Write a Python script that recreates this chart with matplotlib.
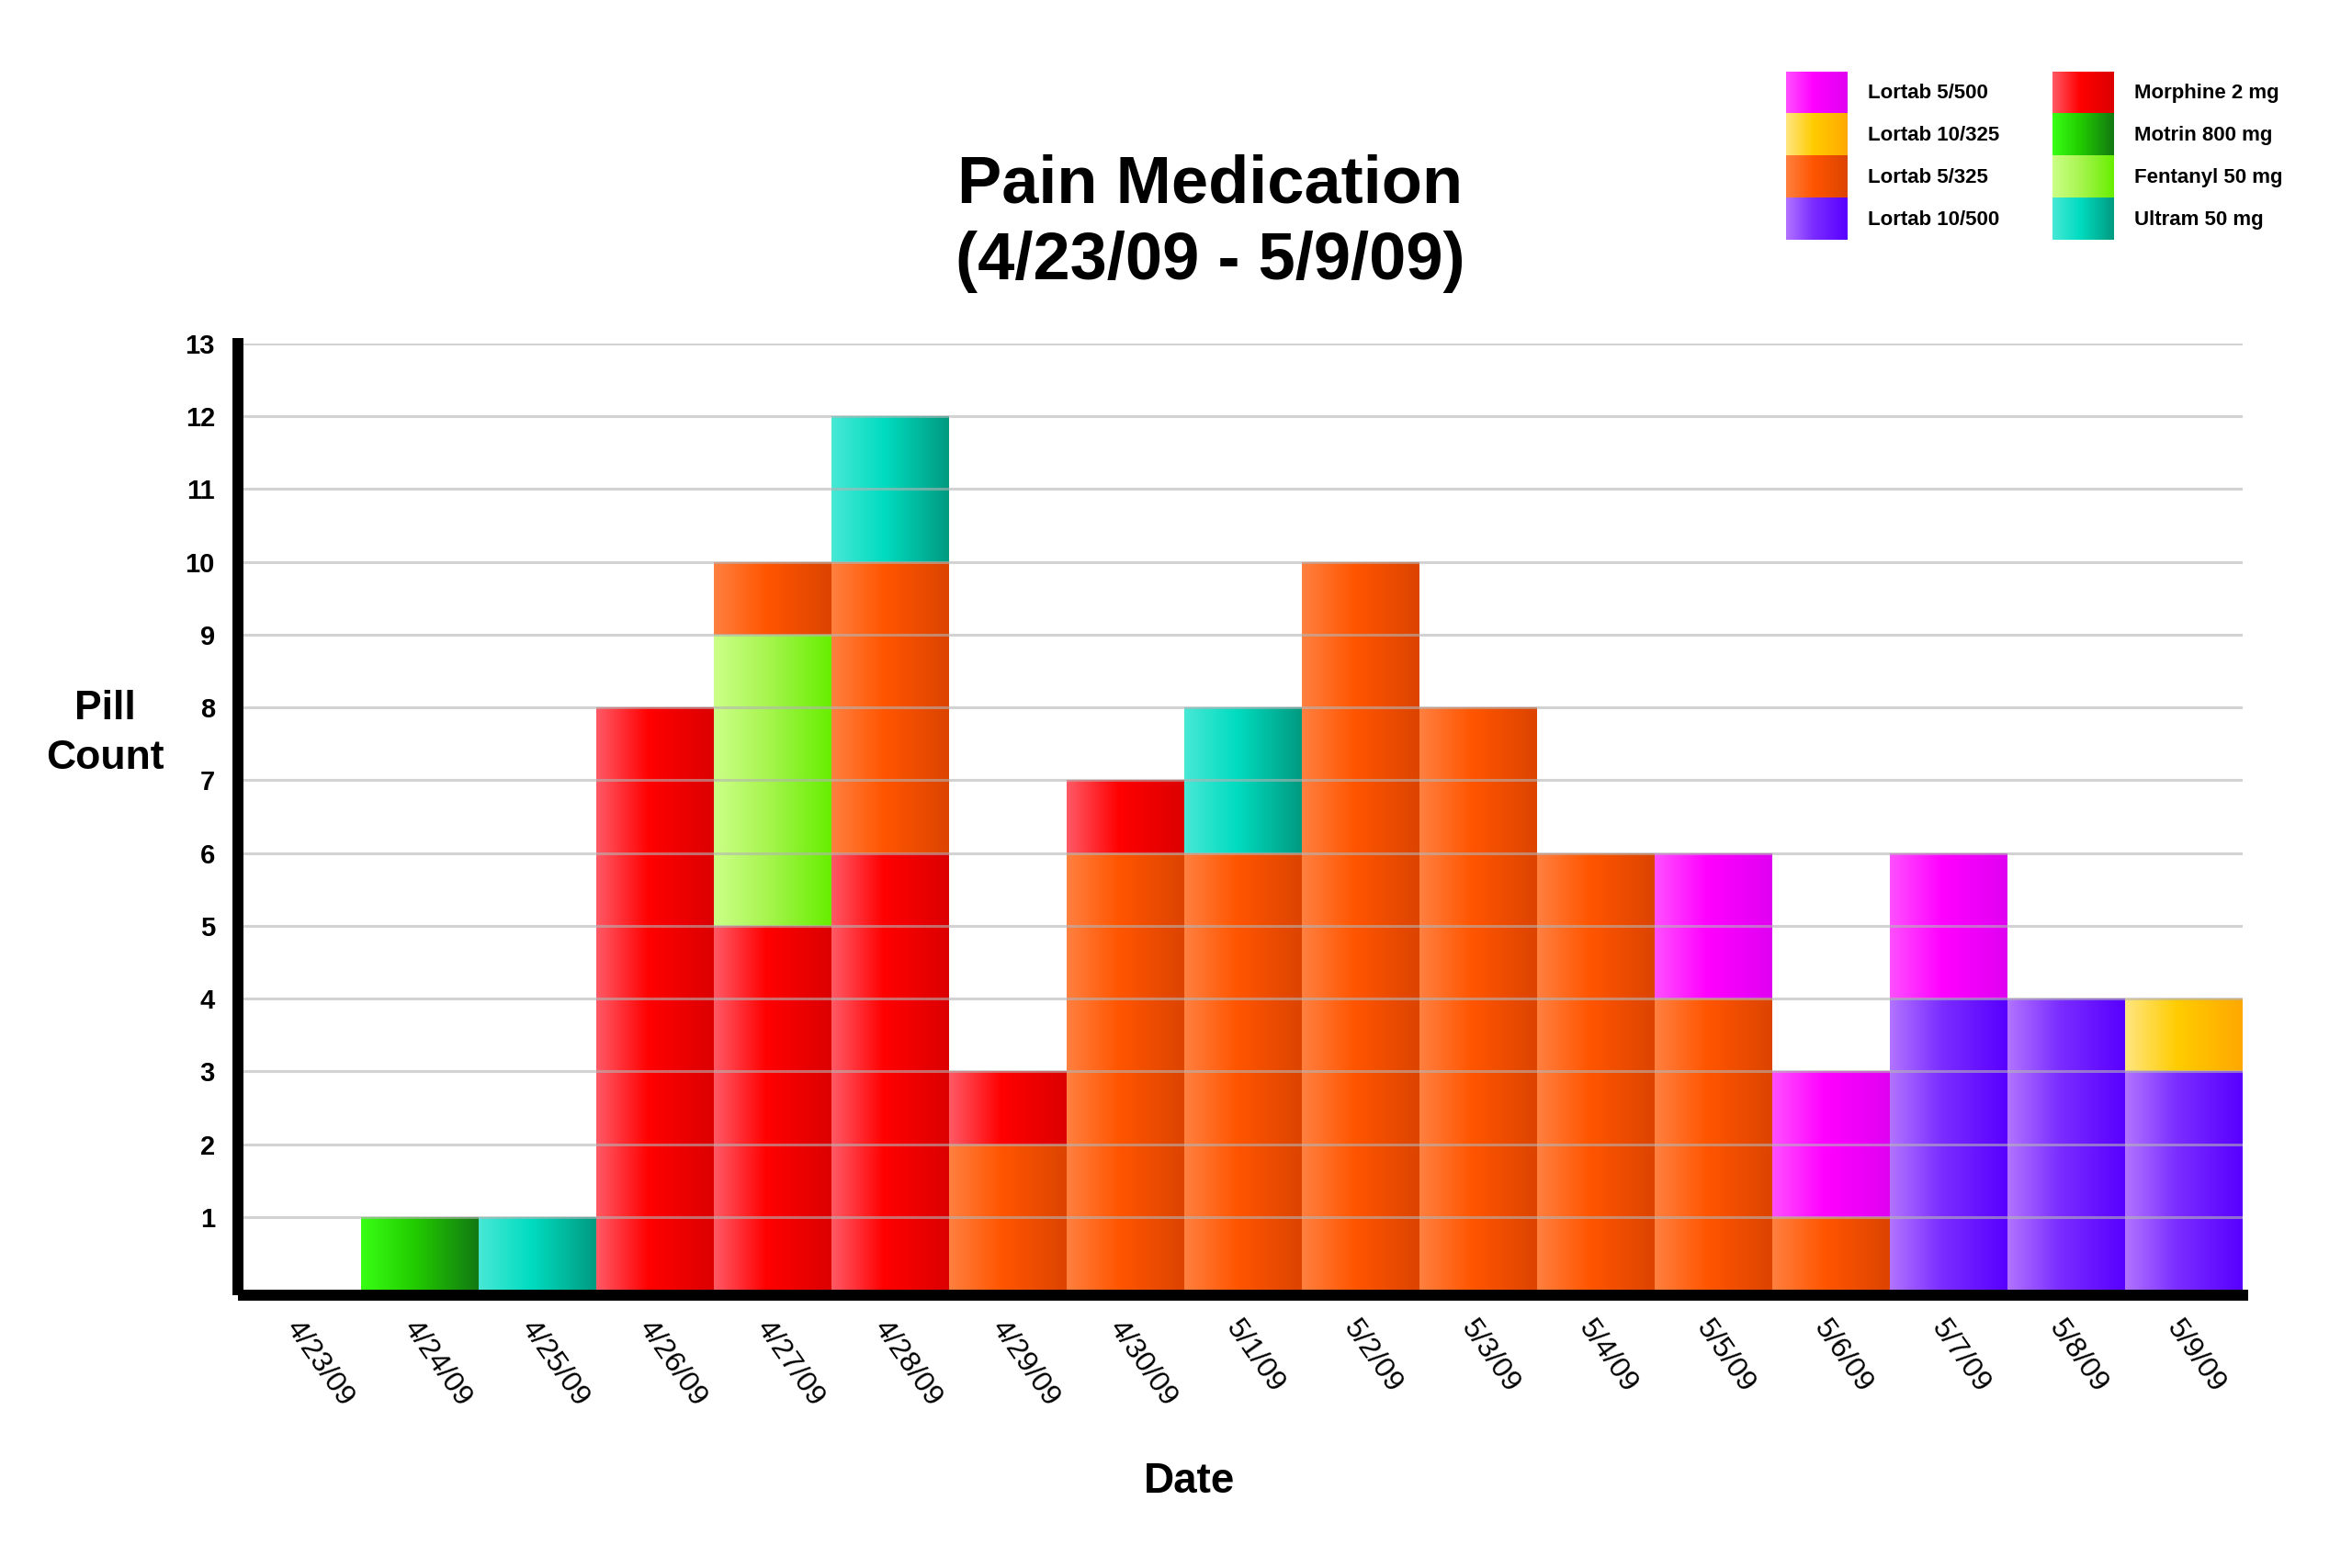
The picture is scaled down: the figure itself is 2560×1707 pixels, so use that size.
import numpy as np
import matplotlib
matplotlib.use('Agg')
import matplotlib.pyplot as plt
from matplotlib.colors import LinearSegmentedColormap
from matplotlib.image import BboxImage
from matplotlib.transforms import Bbox, TransformedBbox
from matplotlib.legend_handler import HandlerBase

plt.rcParams['font.family'] = ['Liberation Sans', 'DejaVu Sans']

dates = ['4/23/09', '4/24/09', '4/25/09', '4/26/09', '4/27/09', '4/28/09',
         '4/29/09', '4/30/09', '5/1/09', '5/2/09', '5/3/09', '5/4/09',
         '5/5/09', '5/6/09', '5/7/09', '5/8/09', '5/9/09']

drugs = ['Lortab 5/500', 'Lortab 10/325', 'Lortab 5/325', 'Lortab 10/500',
         'Morphine 2 mg', 'Motrin 800 mg', 'Fentanyl 50 mg', 'Ultram 50 mg']

# pills per day
lortab_5_500 = [0, 0, 0, 0, 0, 0, 0, 0, 0, 0, 0, 0, 2, 2, 2, 0, 0]
lortab_10_325 = [0, 0, 0, 0, 0, 0, 0, 0, 0, 0, 0, 0, 0, 0, 0, 0, 1]
lortab_5_325 = [0, 0, 0, 0, 1, 4, 2, 6, 6, 10, 8, 6, 4, 1, 0, 0, 0]
lortab_10_500 = [0, 0, 0, 0, 0, 0, 0, 0, 0, 0, 0, 0, 0, 0, 4, 4, 3]
morphine = [0, 0, 0, 8, 5, 6, 1, 1, 0, 0, 0, 0, 0, 0, 0, 0, 0]
motrin = [0, 1, 0, 0, 0, 0, 0, 0, 0, 0, 0, 0, 0, 0, 0, 0, 0]
fentanyl = [0, 0, 0, 0, 4, 0, 0, 0, 0, 0, 0, 0, 0, 0, 0, 0, 0]
ultram = [0, 0, 1, 0, 0, 2, 0, 0, 2, 0, 0, 0, 0, 0, 0, 0, 0]

counts = {
    'Lortab 5/500': lortab_5_500,
    'Lortab 10/325': lortab_10_325,
    'Lortab 5/325': lortab_5_325,
    'Lortab 10/500': lortab_10_500,
    'Morphine 2 mg': morphine,
    'Motrin 800 mg': motrin,
    'Fentanyl 50 mg': fentanyl,
    'Ultram 50 mg': ultram,
}

# stacking order (bottom -> top) for each day
stack_order = [
    [],
    ['Motrin 800 mg'],
    ['Ultram 50 mg'],
    ['Morphine 2 mg'],
    ['Morphine 2 mg', 'Fentanyl 50 mg', 'Lortab 5/325'],
    ['Morphine 2 mg', 'Lortab 5/325', 'Ultram 50 mg'],
    ['Lortab 5/325', 'Morphine 2 mg'],
    ['Lortab 5/325', 'Morphine 2 mg'],
    ['Lortab 5/325', 'Ultram 50 mg'],
    ['Lortab 5/325'],
    ['Lortab 5/325'],
    ['Lortab 5/325'],
    ['Lortab 5/325', 'Lortab 5/500'],
    ['Lortab 5/325', 'Lortab 5/500'],
    ['Lortab 10/500', 'Lortab 5/500'],
    ['Lortab 10/500'],
    ['Lortab 10/500', 'Lortab 10/325'],
]

# light -> saturated -> dark, left to right
grad_colors = {
    'Lortab 5/500': ['#ff50ff', '#ff00ff', '#e000f2'],
    'Lortab 10/325': ['#ffe680', '#ffcc00', '#ffa800'],
    'Lortab 5/325': ['#ff8040', '#ff5500', '#dc4400'],
    'Lortab 10/500': ['#b274ff', '#7a2cff', '#5800ff'],
    'Morphine 2 mg': ['#ff5a66', '#ff0000', '#dc0000'],
    'Motrin 800 mg': ['#38ff14', '#22cc00', '#127812'],
    'Fentanyl 50 mg': ['#ccff88', '#a8f550', '#66ee00'],
    'Ultram 50 mg': ['#48e8d6', '#00dcc0', '#009a80'],
}
cmaps = {d: LinearSegmentedColormap.from_list(d, list(zip([0, 0.45, 1], c)))
         for d, c in grad_colors.items()}
grad = np.linspace(0, 1, 256).reshape(1, -1)


class GradientSwatch:
    def __init__(self, cmap):
        self.cmap = cmap


class GradientHandler(HandlerBase):
    def create_artists(self, legend, orig_handle, xdescent, ydescent,
                       width, height, fontsize, trans):
        bb = TransformedBbox(Bbox.from_bounds(-xdescent, -ydescent, width, height), trans)
        img = BboxImage(bb, cmap=orig_handle.cmap, interpolation='bilinear')
        img.set_data(grad)
        return [img]


fig = plt.figure(figsize=(12.8, 8.535), dpi=200)
ax = fig.add_axes([0.1035, 0.1775, 0.850, 0.6034])

x = np.arange(len(dates))
for i in x:
    bottom = 0
    for drug in stack_order[i]:
        h = counts[drug][i]
        if h == 0:
            continue
        bar = ax.bar(i, h, bottom=bottom, width=1.0, color='none', linewidth=0)[0]
        x0, y0 = bar.get_x(), bar.get_y()
        im = ax.imshow(grad, cmap=cmaps[drug], aspect='auto', interpolation='bilinear',
                       extent=(x0, x0 + bar.get_width(), y0, y0 + bar.get_height()),
                       zorder=1)
        im.set_clip_path(bar)
        bottom += h

ax.set_xlim(-0.5, len(dates) - 0.5)
ax.set_ylim(0, 13)

# grid over the bars
ax.set_axisbelow(False)
ax.set_yticks(range(1, 14))
ax.yaxis.grid(True, color='#b4b4b4', linewidth=1.1, alpha=0.6)

for s in ['top', 'right']:
    ax.spines[s].set_visible(False)
ax.spines['left'].set_linewidth(4.3)
ax.spines['bottom'].set_linewidth(4.3)
ax.spines['left'].set_position(('outward', 2.15))
ax.spines['bottom'].set_position(('outward', 2.15))
ax.spines['left'].set_capstyle('projecting')
ax.spines['bottom'].set_capstyle('projecting')

ax.tick_params(axis='both', length=0)
ax.tick_params(axis='y', pad=9, labelsize=10.5)
ax.tick_params(axis='x', pad=8, labelsize=11.5)
for lab in ax.get_yticklabels():
    lab.set_fontweight('bold')
ax.set_xticks(x)
ax.set_xticklabels(dates, rotation=-55, ha='left', va='top', rotation_mode='anchor')

# titles
fig.text(0.5144, 0.871, 'Pain Medication', ha='center', va='baseline', fontsize=26,
         fontweight='bold')
fig.text(0.5144, 0.822, '(4/23/09 - 5/9/09)', ha='center', va='baseline', fontsize=26,
         fontweight='bold')
fig.text(0.5057, 0.055, 'Date', ha='center', va='center', fontsize=16.5, fontweight='bold')
fig.text(0.0446, 0.532, 'Pill\nCount', ha='center', va='center', fontsize=16,
         fontweight='bold', linespacing=1.4)

# legend with gradient swatches
handles = [GradientSwatch(cmaps[d]) for d in drugs]
fig.legend(handles, drugs, handler_map={GradientSwatch: GradientHandler()},
           ncol=2, loc='upper left', bbox_to_anchor=(0.7594, 0.9543),
           frameon=False, prop={'weight': 'bold', 'size': 8},
           handlelength=3.0, handleheight=2.786, labelspacing=0.0,
           handletextpad=1.0, columnspacing=2.6, borderpad=0, borderaxespad=0)

fig.savefig('out.png', dpi=200, facecolor='white')
